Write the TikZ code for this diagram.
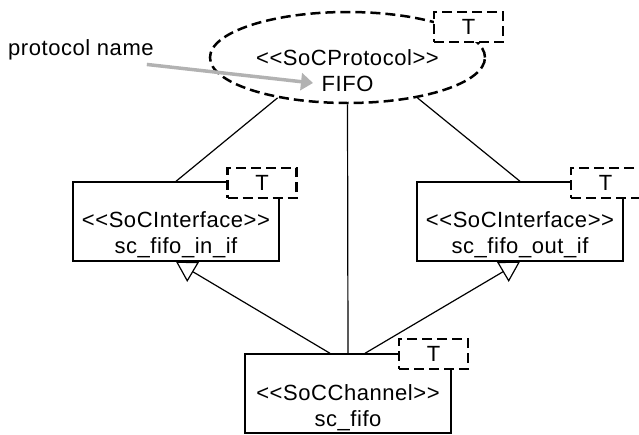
\documentclass[tikz,border=0pt]{standalone}
\usepackage{fontspec}
\setmainfont{Liberation Sans}[Ligatures=TeXOff,LetterSpace=2.5]
\usetikzlibrary{shapes.geometric,arrows.meta}
\tikzset{
  umlbox/.style={draw, line width=1.4pt, minimum width=206pt, minimum height=79pt, inner sep=0pt},
  protobox/.style={ellipse, draw, dash pattern=on 10pt off 5pt, line width=2.5pt, minimum width=275pt, minimum height=91pt, inner sep=0pt},
  tbox/.style={draw, fill=white, dash pattern=on 10pt off 5pt, line width=2.5pt, minimum width=69pt, minimum height=30pt, inner sep=0pt},
  boxtext/.style={align=center, inner sep=0pt},
  link/.style={line width=1.2pt},
  inherit/.style={line width=1.2pt, -{Triangle[open,length=20pt,width=23pt]}},
  pointer/.style={draw=gray!60, line width=3.5pt, -{Triangle[length=12pt,width=17pt]}}
}
\begin{document}
\begin{tikzpicture}[x=1pt,y=-1pt,font=\fontsize{22}{26}\selectfont]
\useasboundingbox (0,0) rectangle (639,434);
% protocol
\node[protobox] (proto) at (347.5,57.5) {};
\node[boxtext] (protoname) at (347.5,70.5) {<<SoCProtocol>>\\FIFO};
\node[tbox] (tproto) at (468.5,27) {T};
% interfaces
\node[umlbox] (inif) at (176,221.5) {};
\node[boxtext] (inifname) at (176,235) {<<SoCInterface>>\\sc\_fifo\_in\_if};
\node[tbox] (tin) at (262,183) {T};
\node[umlbox] (outif) at (520,221.5) {};
\node[boxtext] (outifname) at (520,235) {<<SoCInterface>>\\sc\_fifo\_out\_if};
\node[tbox] (tout) at (605.5,183) {T};
% channel
\node[umlbox] (chan) at (348,393.5) {};
\node[boxtext] (channame) at (348,408) {<<SoCChannel>>\\sc\_fifo};
\node[tbox] (tchan) at (433.5,354) {T};
% links
\draw[link] (proto.210) -- (inif.north);
\draw[link] (proto.330) -- (outif.north);
\draw[link] (proto.south) -- (chan.north);
\draw[inherit] ([xshift=-18pt]chan.north) -- (inif.south);
\draw[inherit] ([xshift=17pt]chan.north) -- (outif.south);
% protocol name
\node[inner sep=0pt, anchor=west] (pname) at (8,50) {protocol name};
\coordinate (ptip) at (313,83);
\draw[pointer] ([xshift=-7pt,yshift=-4pt]pname.south east) -- (ptip);
\end{tikzpicture}
\end{document}
